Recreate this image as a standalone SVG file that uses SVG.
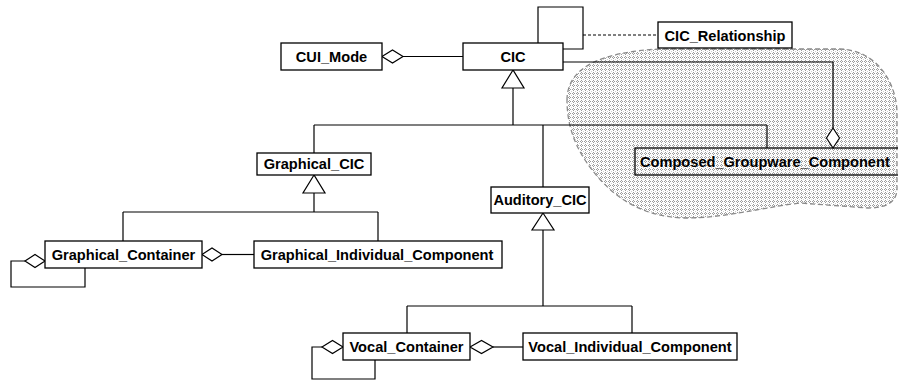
<svg xmlns="http://www.w3.org/2000/svg" width="898" height="381" viewBox="0 0 898 381">
<defs>
<pattern id="hatch" width="4" height="4" patternUnits="userSpaceOnUse">
<rect width="4" height="4" fill="#ffffff"/>
<rect x="1" y="0" width="1" height="1" fill="#9a9a9a"/>
<rect x="0" y="1" width="1" height="1" fill="#9a9a9a"/>
<rect x="2" y="1" width="1" height="1" fill="#9a9a9a"/>
<rect x="1" y="2" width="1" height="1" fill="#9a9a9a"/>
<rect x="3" y="3" width="1" height="1" fill="#d0d0d0"/>
</pattern>
</defs>
<style>
.box{fill:#ffffff;stroke:#000;stroke-width:1.3}
.tbox{fill:none;stroke:#000;stroke-width:1.3}
.lbl{font-family:"Liberation Sans",Arial,sans-serif;font-weight:bold;font-size:14.6px;fill:#000;text-anchor:middle}
.ln{fill:none;stroke:#000;stroke-width:1.2}
.dia{fill:#ffffff;stroke:#000;stroke-width:1.2}
.tri{fill:#ffffff;stroke:#000;stroke-width:1.2}
.dash{fill:none;stroke:#000;stroke-width:1;stroke-dasharray:3,2}
</style>
<rect width="898" height="381" fill="#ffffff"/>
<g id="blob">
<path d="M 567,100 C 567,68 600,52 660,49 L 840,49 C 875,50 896,80 897,112 L 897,190 C 896,203 885,208 868,208 L 800,203 C 760,208 725,218 685,218 C 635,217 605,190 585,160 C 572,140 567,120 567,100 Z" fill="url(#hatch)" stroke="#8a8a8a" stroke-width="1.3" stroke-dasharray="5,3"/>
</g>
<g id="connectors">
<polygon class="dia" points="382,56.5 392.5,50 403,56.5 392.5,63"/>
<line class="ln" x1="403" y1="56.5" x2="463" y2="56.5"/>
<polyline class="ln" points="538,43 538,7 583,7 583,49 563,49"/>
<line class="dash" x1="583" y1="35" x2="658" y2="35"/>
<polyline class="ln" points="563,62 833,62 833,128"/>
<polygon class="dia" points="833,128 839.5,138 833,148 826.5,138"/>
<polygon class="tri" points="513,70 502,88 524,88"/>
<line class="ln" x1="513" y1="88" x2="513" y2="125"/>
<line class="ln" x1="314" y1="125" x2="767" y2="125"/>
<line class="ln" x1="314" y1="125" x2="314" y2="153"/>
<line class="ln" x1="543" y1="125" x2="543" y2="187"/>
<line class="ln" x1="767" y1="125" x2="767" y2="148"/>
<polygon class="tri" points="314,175 303,193 325,193"/>
<line class="ln" x1="314" y1="193" x2="314" y2="212"/>
<line class="ln" x1="123" y1="212" x2="378" y2="212"/>
<line class="ln" x1="123" y1="212" x2="123" y2="241"/>
<line class="ln" x1="378" y1="212" x2="378" y2="241"/>
<polygon class="dia" points="202,254.5 212,248 222,254.5 212,261"/>
<line class="ln" x1="222" y1="254.5" x2="254" y2="254.5"/>
<polygon class="dia" points="45,261 35,254.5 25,261 35,267.5"/>
<polyline class="ln" points="25,261 11,261 11,287 85,287 85,268"/>
<polygon class="tri" points="543,213 532,230 554,230"/>
<line class="ln" x1="543" y1="230" x2="543" y2="306"/>
<line class="ln" x1="407" y1="306" x2="632" y2="306"/>
<line class="ln" x1="407" y1="306" x2="407" y2="333"/>
<line class="ln" x1="632" y1="306" x2="632" y2="333"/>
<polygon class="dia" points="470,347 481.5,340.5 493,347 481.5,353.5"/>
<line class="ln" x1="493" y1="347" x2="523" y2="347"/>
<polygon class="dia" points="343,347 332.5,340.5 322,347 332.5,353.5"/>
<polyline class="ln" points="322,347 312,347 312,379 375,379 375,360"/>
</g>
<g id="CUI_Mode"><rect class="box" x="281" y="43" width="101" height="27"/><text class="lbl" x="331.5" y="62">CUI_Mode</text></g>
<g id="CIC"><rect class="box" x="463" y="43" width="100" height="27"/><text class="lbl" x="513" y="62">CIC</text></g>
<g id="CIC_Relationship"><rect class="box" x="658" y="22" width="134" height="26"/><text class="lbl" x="725" y="40.5">CIC_Relationship</text></g>
<g id="Composed_Groupware_Component"><rect class="tbox" x="635" y="148" width="280" height="27"/><text class="lbl" x="640" y="167" style="text-anchor:start">Composed_Groupware_Component</text></g>
<g id="Graphical_CIC"><rect class="box" x="257" y="153" width="114" height="22"/><text class="lbl" x="314" y="168.5">Graphical_CIC</text></g>
<g id="Auditory_CIC"><rect class="box" x="491" y="187" width="98" height="26"/><text class="lbl" x="540" y="205">Auditory_CIC</text></g>
<g id="Graphical_Container"><rect class="box" x="45" y="241" width="157" height="27"/><text class="lbl" x="123.5" y="259.5">Graphical_Container</text></g>
<g id="Graphical_Individual_Component"><rect class="box" x="254" y="241" width="248" height="27"/><text class="lbl" x="377" y="259.5">Graphical_Individual_Component</text></g>
<g id="Vocal_Container"><rect class="box" x="343" y="333" width="127" height="27"/><text class="lbl" x="406.5" y="351.5">Vocal_Container</text></g>
<g id="Vocal_Individual_Component"><rect class="box" x="523" y="333" width="214" height="27"/><text class="lbl" x="630" y="351.5">Vocal_Individual_Component</text></g>
</svg>
